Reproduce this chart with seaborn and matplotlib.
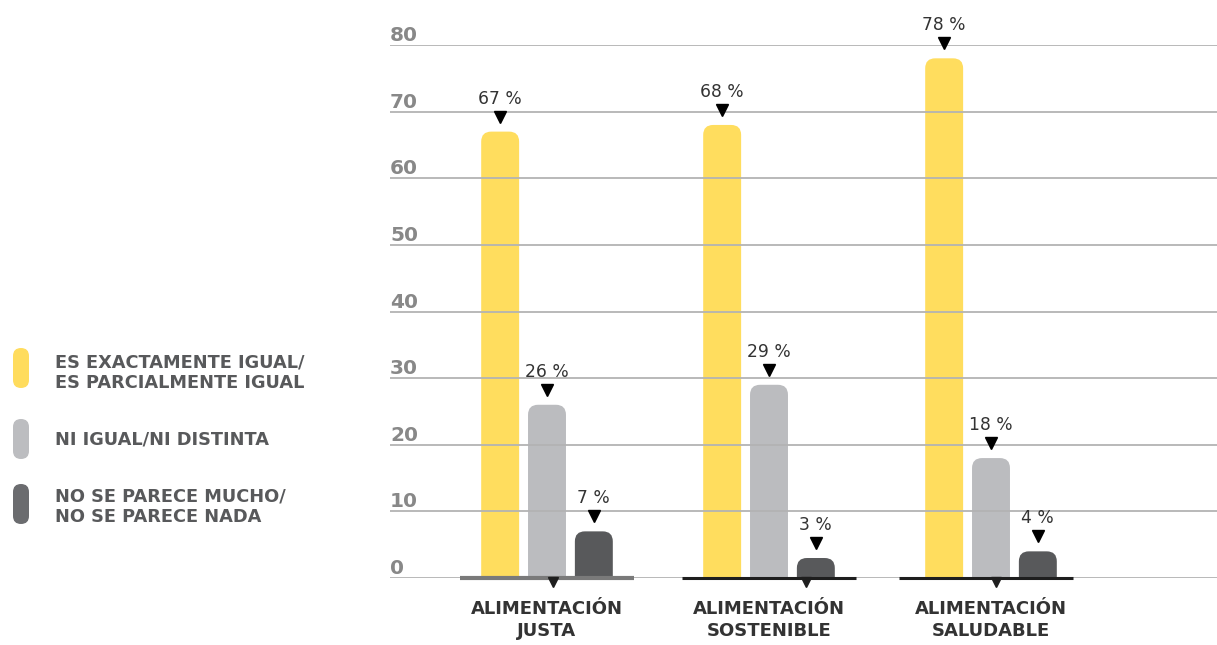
import matplotlib
matplotlib.use("Agg")
import matplotlib.pyplot as plt
import seaborn as sns
import pandas as pd
from matplotlib.patches import FancyBboxPatch
from matplotlib.transforms import blended_transform_factory, ScaledTranslation

# ---------------- data ----------------
categories = ["ALIMENTACIÓN\nJUSTA", "ALIMENTACIÓN\nSOSTENIBLE", "ALIMENTACIÓN\nSALUDABLE"]
series = ["ES EXACTAMENTE IGUAL/\nES PARCIALMENTE IGUAL",
          "NI IGUAL/NI DISTINTA",
          "NO SE PARECE MUCHO/\nNO SE PARECE NADA"]
igual = [67, 68, 78]
ni_igual = [26, 29, 18]
no_parece = [7, 3, 4]
yticks = [0, 10, 20, 30, 40, 50, 60, 70, 80]

bar_colors = ["#FFDD5E", "#BBBCBF", "#58595B"]
legend_colors = ["#FFDC5D", "#BCBDC0", "#6B6C6F"]

rows = []
for s, vals in zip(series, [igual, ni_igual, no_parece]):
    for c, v in zip(categories, vals):
        rows.append({"cat": c, "serie": s, "val": v})
df = pd.DataFrame(rows)

# ---------------- figure ----------------
W, H = 1217, 645
fig = plt.figure(figsize=(W / 100, H / 100), dpi=100)
ax = fig.add_axes([390 / W, (H - 578) / H, (W - 390) / W, 533 / H])

sns.barplot(data=df, x="cat", y="val", hue="serie", order=categories,
            hue_order=series, palette=bar_colors, width=0.633, gap=0.19,
            legend=False, ax=ax, saturation=1, errorbar=None)

px_x = 222.0            # pixels per x unit
px_y = 533.0 / 80.0     # pixels per y unit
ax.set_xlim(-(547 - 390) / px_x, (1217 - 547) / px_x)
ax.set_ylim(0, 80)

# rounded tops
r = 10 / px_x
aspect = (10 / px_y) / r
for cont in ax.containers:
    for bar in cont:
        x, w, h = bar.get_x(), bar.get_width(), bar.get_height()
        fc = bar.get_facecolor()
        bar.set_visible(False)
        p = FancyBboxPatch((x, -6), w, h + 6,
                           boxstyle=f"round,pad=0,rounding_size={r}",
                           mutation_aspect=aspect, facecolor=fc,
                           edgecolor="none", zorder=1)
        ax.add_patch(p)

# value annotations
for cont in ax.containers:
    for bar in cont:
        xc = bar.get_x() + bar.get_width() / 2
        h = bar.get_height()
        tr = ax.transData + ScaledTranslation(0, 15 / 100, fig.dpi_scale_trans)
        ax.plot([xc], [h], marker="v", ms=8.5, color="black", transform=tr,
                clip_on=False, zorder=5)
        ax.annotate(f"{h:.0f} %", (xc, h), xytext=(0, 28),
                    textcoords="offset pixels", ha="center", va="baseline",
                    fontsize=12.3, color="#333333", annotation_clip=False)

# grid on top of bars
ax.set_yticks(yticks)
ax.set_yticklabels([])
ax.yaxis.grid(True, color="#B3B3B3", linewidth=1.3, zorder=2.5)
ax.set_axisbelow(False)
ax.tick_params(axis="both", length=0)
for sp in ax.spines.values():
    sp.set_visible(False)

# y tick labels above gridlines, left aligned
btr = blended_transform_factory(ax.transAxes, ax.transData)
for t in yticks:
    ax.text(0, t, str(t), transform=btr + ScaledTranslation(0, 4 / 100, fig.dpi_scale_trans),
            ha="left", va="baseline", fontsize=14.5, fontweight="bold",
            color="#888888")

# x labels
ax.set_xlabel("")
ax.set_ylabel("")
ax.tick_params(axis="x", pad=16)
for lab in ax.get_xticklabels():
    lab.set_fontsize(13)
    lab.set_fontweight("bold")
    lab.set_color("#333333")
    lab.set_linespacing(1.25)

# baseline segments with small markers (as in the original)
seg_styles = [("#7A7A7A", 3.0, -0.39, 0.39, 0.027),
              ("#1E1E1E", 2.2, -0.39, 0.39, 0.167),
              ("#1E1E1E", 2.2, -0.415, 0.37, 0.023)]
for i, (col, lw, a, b, m) in enumerate(seg_styles):
    ax.plot([i + a, i + b], [0, 0], color=col, lw=lw, solid_capstyle="butt",
            clip_on=False, zorder=3)
    trm = ax.transData + ScaledTranslation(0, -4 / 100, fig.dpi_scale_trans)
    ax.plot([i + m], [0], marker="v", ms=6.5, color="#1E1E1E", transform=trm,
            clip_on=False, zorder=3)

# ---------------- legend (pixel coords) ----------------
lax = fig.add_axes([0, 0, 1, 1], zorder=-1)
lax.set_xlim(0, W)
lax.set_ylim(H, 0)
lax.axis("off")
pill_tops = [348, 419, 484]
text_centers = [372.5, 439, 507]
for col, top, tc, label in zip(legend_colors, pill_tops, text_centers, series):
    lax.add_patch(FancyBboxPatch((13, top), 16, 40,
                                 boxstyle="round,pad=0,rounding_size=8",
                                 facecolor=col, edgecolor="none"))
    lax.text(55, tc, label, ha="left", va="center", fontsize=12.8,
             fontweight="bold", color="#58595B", linespacing=1.15)

fig.savefig("out.png", dpi=100)
